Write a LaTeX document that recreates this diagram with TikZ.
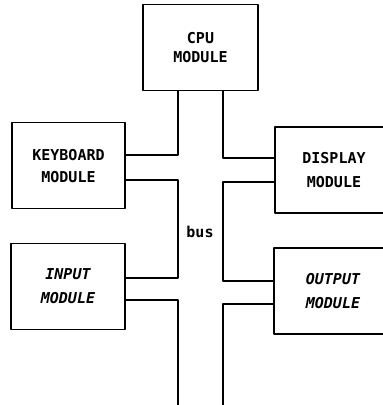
\documentclass[tikz,border=0pt]{standalone}
\usepackage{fontspec}
\setmonofont{DejaVu Sans Mono}
\usetikzlibrary{calc}

\begin{document}
\begin{tikzpicture}[x=1pt,y=-1pt,line join=round,
  module/.style={draw,line width=1.4pt,align=center,inner sep=0pt,
    minimum width=115pt,minimum height=86pt,text depth=-8pt,
    font=\ttfamily\bfseries\fontsize{15}{22}\selectfont},
  modit/.style={module,font=\ttfamily\bfseries\itshape\fontsize{15}{24}\selectfont},
  bus/.style={line width=1.6pt}]
  \useasboundingbox (0,0) rectangle (383,405);
  \clip (0,0) rectangle (383,405);
  % modules
  \node[module,font=\ttfamily\bfseries\fontsize{15}{19}\selectfont] (cpu) at (200.5,47.5) {CPU\\MODULE};
  \node[module,minimum width=113pt] (kbd) at (68.5,165.5) {KEYBOARD\\MODULE};
  \node[module,minimum width=118pt,font=\ttfamily\bfseries\fontsize{15}{24}\selectfont] (disp) at (334,170) {DISPLAY\\MODULE};
  \node[modit,minimum width=114pt] (inp) at (68,286.5) {INPUT\\MODULE};
  \node[modit,minimum width=118pt] (outp) at (333,291) {OUTPUT\\MODULE};
  \node[font=\ttfamily\bfseries\fontsize{15}{19}\selectfont] (buslbl) at (200,232) {bus};
  % bus ends
  \coordinate (BL) at (178,405);
  \coordinate (BR) at (223,405);
  \coordinate (k1) at ([yshift=10.5pt]kbd.east);
  \coordinate (k2) at ([yshift=-14.5pt]kbd.east);
  \coordinate (i1) at ([yshift=8.5pt]inp.east);
  \coordinate (i2) at ([yshift=-13.5pt]inp.east);
  \coordinate (d1) at ([yshift=12pt]disp.west);
  \coordinate (d2) at ([yshift=-12pt]disp.west);
  \coordinate (o1) at ([yshift=10pt]outp.west);
  \coordinate (o2) at ([yshift=-13pt]outp.west);
  % left side of the bus
  \draw[bus] (cpu.south -| BL) |- (k1);
  \draw[bus] (k2) -| (BL |- i1) -- (i1);
  \draw[bus] (i2) -| (BL);
  % right side of the bus
  \draw[bus] (cpu.south -| BR) |- (d1);
  \draw[bus] (d2) -| (BR |- o1) -- (o1);
  \draw[bus] (o2) -| (BR);
\end{tikzpicture}
\end{document}
